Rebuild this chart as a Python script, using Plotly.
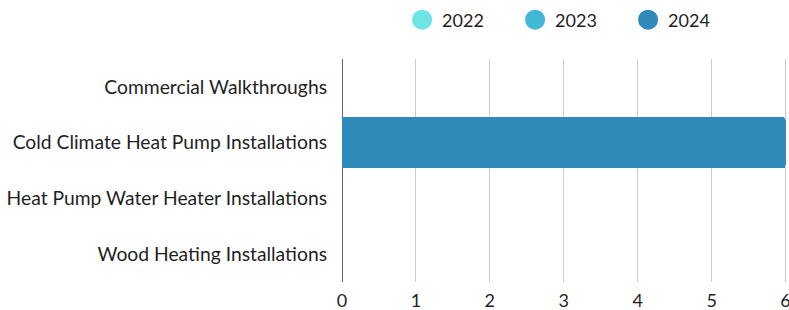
import plotly.graph_objects as go

categories = [
    "Commercial Walkthroughs",
    "Cold Climate Heat Pump Installations",
    "Heat Pump Water Heater Installations",
    "Wood Heating Installations",
]
years = ["2022", "2023", "2024"]
values_2022 = [0, 0, 0, 0]
values_2023 = [0, 0, 0, 0]
values_2024 = [0, 6, 0, 0]
colors = ["#6EE4E6", "#43B8D6", "#2E8BBA"]

series = [values_2022, values_2023, values_2024]

FONT = "Lato, Carlito, 'Open Sans', sans-serif"
TEXT = "#1f1f1f"

fig = go.Figure()
for name, vals, col in zip(years, series, colors):
    fig.add_trace(go.Bar(
        y=categories, x=vals, name=name, orientation="h",
        marker=dict(color=col, line=dict(width=0)),
        showlegend=False,
    ))
# legend entries with circular markers
for name, col in zip(years, colors):
    fig.add_trace(go.Scatter(
        x=[None], y=[None], mode="markers", name=name,
        marker=dict(symbol="circle", size=16, color=col, line=dict(color=col, width=4)),
        showlegend=True,
    ))

fig.update_layout(
    width=789, height=310,
    margin=dict(l=342, r=2, t=59, b=28),
    paper_bgcolor="white", plot_bgcolor="white",
    barmode="stack", bargap=0.085, barcornerradius=3,
    font=dict(family=FONT, size=18, color=TEXT),
    legend=dict(
        orientation="h", x=0.135, xanchor="left", y=1.175, yanchor="middle",
        traceorder="normal", entrywidth=68, entrywidthmode="pixels",
        font=dict(family=FONT, size=18, color=TEXT),
        itemsizing="trace", bgcolor="rgba(0,0,0,0)",
    ),
    xaxis=dict(
        range=[0, 6.02], tickvals=[0, 1, 2, 3, 4, 5, 6],
        showgrid=True, gridcolor="#cccccc", gridwidth=1,
        zeroline=True, zerolinecolor="#666666", zerolinewidth=1,
        showline=False, ticks="", ticklabelstandoff=6, automargin=False,
        ticklabeloverflow="allow",
        tickfont=dict(family=FONT, size=18, color=TEXT),
        fixedrange=True,
    ),
    yaxis=dict(
        autorange="reversed", showgrid=False, showline=False, ticks="",
        ticklabelstandoff=14, automargin=False,
        tickfont=dict(family=FONT, size=19.3, color=TEXT),
        fixedrange=True,
    ),
)

# remove the browser's default page margin so the figure fills the window exactly
fig.write_html(
    "out.html",
    config={"displayModeBar": False},
    post_script="document.body.style.margin='0';document.body.style.overflow='hidden';",
)
